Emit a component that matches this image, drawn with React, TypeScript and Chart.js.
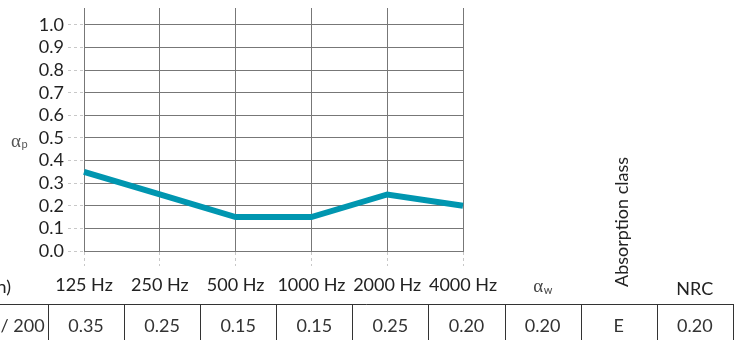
import React, { useEffect, useRef } from "react";
import { Chart, registerables } from "chart.js";

Chart.register(...registerables);

// ---- data ----
const categories = ["125 Hz", "250 Hz", "500 Hz", "1000 Hz", "2000 Hz", "4000 Hz"];
const alphaP = [0.35, 0.25, 0.15, 0.15, 0.25, 0.2];
const yTicks = [0, 0.1, 0.2, 0.3, 0.4, 0.5, 0.6, 0.7, 0.8, 0.9, 1.0];
const yMin = 0;
const yMax = 1.075;
const firstColumnHeader = "Mounting (construction)";
const firstColumnValue = "25 / 200";
const bandValues = ["0.35", "0.25", "0.15", "0.15", "0.25", "0.20"];
const extraHeaders = ["αw", "Absorption class", "NRC"];
const extraValues = ["0.20", "E", "0.20"];

const FONT = "Lato, 'Open Sans', sans-serif";
const FSIZE = 18;
const LINE_COLOR = "#0096b0";
const GRID = "#777";
const TICK = "#c8c8c8";
const TEXT = "#222";

const tablePlugin = {
  id: "tablePlugin",
  afterDraw(chart: any) {
    const ctx = chart.ctx;
    const xs = chart.scales.x;
    const colW = 76.1;
    const c0 = xs.getPixelForValue(0) + 2;
    const center = (i: number) => c0 + i * colW;

    ctx.save();
    // y-axis label alpha_p
    ctx.fillStyle = "#555";
    ctx.textBaseline = "alphabetic";
    ctx.textAlign = "left";
    ctx.font = "19px 'Liberation Serif', serif";
    const yMid = chart.scales.y.getPixelForValue(0.5);
    ctx.fillText("α", 11, yMid + 9);
    const apw = ctx.measureText("α").width;
    ctx.font = "11px " + FONT;
    ctx.fillText("p", 11 + apw + 0.5, yMid + 10);

    // header of first column (cut off on the left)
    ctx.fillStyle = TEXT;
    ctx.font = FSIZE + "px " + FONT;
    ctx.textAlign = "right";
    ctx.textBaseline = "middle";
    ctx.fillText(firstColumnHeader, 11, 287);

    // extra headers
    const nb = categories.length;
    // alpha_w
    ctx.textAlign = "left";
    ctx.textBaseline = "alphabetic";
    ctx.font = "19px 'Liberation Serif', serif";
    const aw = ctx.measureText("α").width;
    ctx.font = "11px " + FONT;
    const ww = ctx.measureText("w").width;
    const awx = center(nb) - (aw + ww) / 2;
    ctx.fillStyle = "#444";
    ctx.font = "19px 'Liberation Serif', serif";
    ctx.fillText(extraHeaders[0].charAt(0), awx, 292);
    ctx.font = "11px " + FONT;
    ctx.fillText(extraHeaders[0].charAt(1), awx + aw + 0.5, 294);

    // Absorption class (rotated)
    ctx.fillStyle = TEXT;
    ctx.save();
    ctx.translate(center(nb + 1) + 3, 287);
    ctx.rotate(-Math.PI / 2);
    ctx.font = FSIZE + "px " + FONT;
    ctx.textAlign = "left";
    ctx.textBaseline = "middle";
    ctx.fillText(extraHeaders[1], 0, 0);
    ctx.restore();

    // NRC
    ctx.font = FSIZE + "px " + FONT;
    ctx.textAlign = "center";
    ctx.textBaseline = "middle";
    ctx.fillText(extraHeaders[2], center(nb + 2), 289);

    // table
    const top = 304;
    const bottom = chart.height + 2;
    const right = center(nb + 2) + colW / 2;
    ctx.strokeStyle = "#333";
    ctx.lineWidth = 1;
    ctx.beginPath();
    ctx.moveTo(0, top + 0.5);
    ctx.lineTo(Math.round(right) + 0.5, top + 0.5);
    for (let i = 0; i <= nb + 3; i++) {
      const bx = Math.round(center(i) - colW / 2) + 0.5;
      ctx.moveTo(bx, top);
      ctx.lineTo(bx, bottom);
    }
    ctx.stroke();

    ctx.fillStyle = "#333";
    ctx.font = FSIZE + "px " + FONT;
    ctx.textAlign = "center";
    ctx.textBaseline = "middle";
    const vy = 326;
    ctx.fillText(firstColumnValue, center(-1), vy);
    bandValues.forEach((v, i) => ctx.fillText(v, center(i), vy));
    extraValues.forEach((v, i) => ctx.fillText(v, center(nb + i), vy));
    ctx.restore();
  },
};

export default function App() {
  const ref = useRef<HTMLCanvasElement | null>(null);

  useEffect(() => {
    document.body.style.margin = "0";
    const canvas = ref.current;
    if (!canvas) return;
    const chart = new Chart(canvas, {
      type: "line",
      data: {
        labels: categories,
        datasets: [
          {
            data: alphaP,
            borderColor: LINE_COLOR,
            borderWidth: 6,
            pointRadius: 0,
            tension: 0,
            fill: false,
            borderCapStyle: "butt",
            borderJoinStyle: "miter",
          },
        ],
      },
      options: {
        animation: false,
        responsive: false,
        devicePixelRatio: 1,
        layout: { padding: { left: 0, top: 8, right: 285, bottom: 0 } },
        plugins: { legend: { display: false }, tooltip: { enabled: false } },
        scales: {
          x: {
            type: "category",
            offset: false,
            grid: {
              color: GRID,
              lineWidth: 1,
              tickLength: 15,
              tickColor: TICK,
              tickBorderDash: [3, 3],
            },
            border: { color: GRID },
            ticks: {
              color: TEXT,
              font: { family: FONT, size: FSIZE },
              padding: 8,
              maxRotation: 0,
              autoSkip: false,
            },
            afterFit: (s: any) => {
              s.height = 89;
              s.paddingLeft = 0;
              s.paddingRight = 0;
            },
          },
          y: {
            type: "linear",
            min: yMin,
            max: yMax,
            grid: {
              color: GRID,
              lineWidth: 1,
              tickLength: 16,
              tickColor: TICK,
              tickBorderDash: [3, 3],
            },
            border: { color: GRID },
            ticks: {
              color: TEXT,
              font: { family: FONT, size: FSIZE },
              padding: 4,
              autoSkip: false,
              callback: (v: any) => Number(v).toFixed(1),
            },
            afterBuildTicks: (s: any) => {
              s.ticks = yTicks.map((v) => ({ value: v }));
            },
            afterFit: (s: any) => {
              s.width = 84;
              s.paddingTop = 0;
              s.paddingBottom = 0;
            },
          },
        },
      },
      plugins: [tablePlugin],
    } as any);
    return () => chart.destroy();
  }, []);

  return (
    <div style={{ position: "fixed", left: 0, top: 0, width: 748, height: 340 }}>
      <canvas ref={ref} width={748} height={340} style={{ display: "block" }} />
    </div>
  );
}
